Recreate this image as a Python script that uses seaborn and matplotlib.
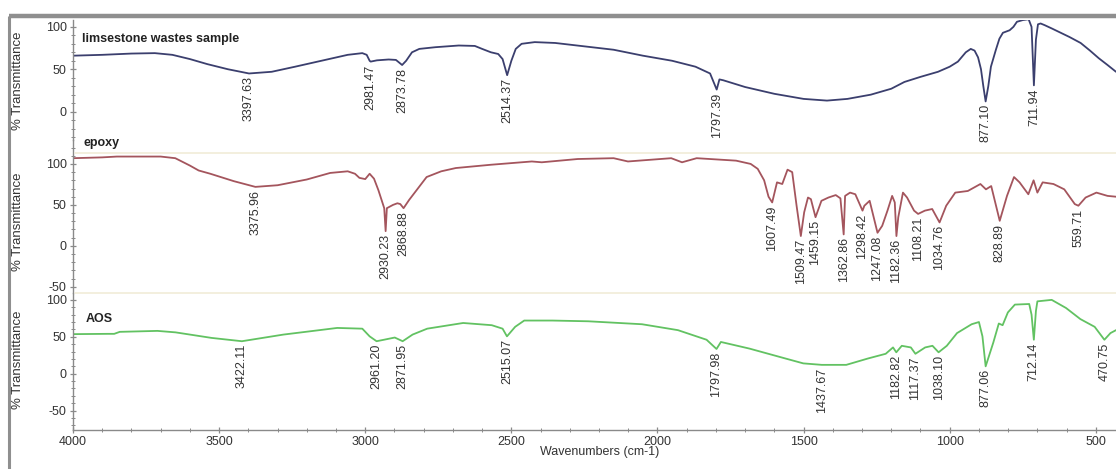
import numpy as np
import pandas as pd
import matplotlib
matplotlib.use("Agg")
import matplotlib.pyplot as plt
import seaborn as sns
from matplotlib.ticker import MultipleLocator, FixedLocator
from matplotlib.lines import Line2D

# ---------------- data ----------------
limestone_wn = [4000, 3900, 3800, 3720, 3660, 3600, 3540, 3470, 3397.63, 3320, 3240, 3150, 3060,
                3010, 2995, 2985, 2981.47, 2960, 2920, 2895, 2873.78, 2860, 2840, 2815, 2760, 2680,
                2625, 2600, 2570, 2545, 2530, 2514.37, 2500, 2485, 2465, 2420, 2350, 2250, 2150,
                2050, 1950, 1870, 1820, 1797.39, 1788, 1775, 1700, 1600, 1500, 1420, 1350, 1270,
                1200, 1155, 1100, 1040, 1000, 972, 945, 928, 915, 903, 893, 885, 877.10, 868, 859,
                842, 830, 818, 795, 782, 770, 750, 730, 720, 711.94, 705, 698, 689, 675, 650, 620,
                590, 552, 520, 490, 460, 431]
limestone_t = [66, 67, 68.5, 69, 67, 62, 56, 50, 45, 47, 53, 60, 67,
               69, 67, 60, 59, 60.5, 61.5, 61, 55, 60, 70, 74, 76, 78,
               77.5, 74, 70, 68, 62, 43, 60, 74, 80, 82, 81, 77, 73,
               66, 60, 53, 45, 26, 38, 37, 29, 21, 15, 13, 15, 20,
               27, 35, 41, 47, 53, 59, 70, 74, 72, 64, 50, 30, 12, 30, 53,
               73, 86, 93, 96, 100, 106, 108, 109, 100, 31, 85, 103, 104, 102, 98, 93,
               88, 81, 72, 63, 55, 47]

epoxy_wn = [4000, 3900, 3850, 3700, 3650, 3600, 3570, 3530, 3450, 3375.96, 3300, 3200, 3120,
            3060, 3035, 3020, 3000, 2985, 2970, 2955, 2945, 2935, 2930.23, 2926, 2905, 2890,
            2880, 2868.88, 2850, 2820, 2790, 2740, 2690, 2570, 2430, 2396, 2273, 2150, 2101,
            2027, 1953, 1916, 1866, 1731, 1681, 1657, 1635, 1620, 1607.49, 1591, 1573, 1555,
            1539, 1524, 1509.47, 1498, 1485, 1475, 1459.15, 1439, 1415, 1390, 1374, 1362.86,
            1358, 1341, 1323, 1298.42, 1292, 1274, 1247.08, 1231, 1213, 1197, 1188, 1182.36,
            1176, 1160, 1146, 1122, 1108.21, 1085, 1060, 1034.76, 1012, 981, 938, 895, 876,
            858, 828.89, 804, 780, 761, 731, 713, 700, 682, 645, 608, 572, 559.71, 535, 498,
            460, 431]
epoxy_t = [107, 108, 109, 109, 107, 98, 92, 88, 79, 72, 74, 81, 89,
           91, 88, 83, 81.5, 88, 82, 68, 57, 46, 18, 46, 50, 52,
           51, 46, 56, 70, 84, 91, 95, 99, 103, 102, 106, 107, 103,
           105, 107, 102, 107, 104, 100, 94, 80, 60, 53, 77.5, 75.5, 93,
           90, 49, 12, 41, 59, 57, 35, 55, 59, 62, 58, 14,
           61, 65, 63, 43, 49, 55, 16, 24.5, 43, 61, 53, 12,
           35, 65, 59, 43, 39, 43, 45, 28.6, 49, 65, 67, 75.5, 69,
           73, 30.6, 61, 84, 77.5, 63, 80, 65, 77.5, 75.5, 69, 51, 49, 59, 65,
           61, 60]

aos_wn = [4000, 3880, 3859, 3840, 3711, 3649, 3526, 3422.11, 3280, 3157, 3096, 3010, 2985,
          2961.20, 2936, 2899, 2871.95, 2838, 2788, 2665, 2567, 2530, 2515.07, 2487, 2456,
          2360, 2237, 2053, 1930, 1832, 1797.98, 1783, 1685, 1562, 1501, 1437.67, 1354, 1280,
          1219, 1194, 1182.82, 1164, 1133, 1117.37, 1084, 1059, 1038.10, 1010, 975, 925, 900,
          888, 877.06, 851, 832, 819, 801, 777, 728, 720, 712.14, 705, 700, 651, 602, 553,
          504, 470.75, 450, 431]
aos_t = [53.6, 54, 54, 56.7, 58, 56, 48.5, 44, 53, 59, 62, 61, 50.6,
         44, 46, 49, 44, 53, 61, 68.7, 65.7, 61, 50.6, 63.5, 72,
         72, 71, 67, 59, 46, 33.5, 43, 34, 20.6, 14, 12, 12, 20.6,
         27, 35.6, 29, 37.8, 35.6, 27, 35.6, 37.8, 29, 37.8, 55, 67, 70,
         50.6, 10, 42, 68, 65.7, 83, 93.6, 94.4, 80, 46, 85, 98, 100, 89, 74,
         63.5, 46, 55, 59]

limestone_peaks = [3397.63, 2981.47, 2873.78, 2514.37, 1797.39, 877.10, 711.94]
epoxy_peaks = [3375.96, 2930.23, 2868.88, 1607.49, 1509.47, 1459.15, 1362.86, 1298.42,
               1247.08, 1182.36, 1108.21, 1034.76, 828.89, 559.71]
aos_peaks = [3422.11, 2961.20, 2871.95, 2515.07, 1797.98, 1437.67, 1182.82, 1117.37,
             1038.10, 877.06, 712.14, 470.75]

titles = ["limsestone wastes sample", "epoxy", "AOS"]
x_ticks = [4000, 3500, 3000, 2500, 2000, 1500, 1000, 500]
y_ticks = [-50, 0, 50, 100]

# ---------------- styling ----------------
sns.set_theme(style="white")
plt.rcParams["font.family"] = ["Liberation Sans", "DejaVu Sans"]
plt.rcParams["axes.unicode_minus"] = False

W, H = 1116, 469
fig = plt.figure(figsize=(W / 100, H / 100), dpi=100)
fig.patch.set_facecolor("white")


def fx(px):
    return px / W


def fy(py):
    return 1 - py / H


LEFT = 73
# (top px, bottom px, ylim)
panels = [
    (20, 140, (-33.5, 108.1)),
    (140, 293, (-57.5, 129.2)),
    (293, 430, (-76.2, 109.3)),
]
colors = ["#3b3f6e", "#a4555d", "#62c262"]
series = [(limestone_wn, limestone_t, limestone_peaks),
          (epoxy_wn, epoxy_t, epoxy_peaks),
          (aos_wn, aos_t, aos_peaks)]

spine_col = "#8a8a8a"
text_col = "#333333"

axes = []
for i, ((top, bot, ylim), (wn, t, peaks), col) in enumerate(zip(panels, series, colors)):
    ax = fig.add_axes([fx(LEFT), fy(bot), fx(W - LEFT), (bot - top) / H])
    ax.set_facecolor("none")
    df = pd.DataFrame({"wn": wn, "T": t})
    sns.lineplot(data=df, x="wn", y="T", ax=ax, color=col, linewidth=1.3,
                 estimator=None, sort=False)
    ax.set_xlim(4000, 431)
    ax.set_ylim(*ylim)
    ax.set_xlabel("")
    ax.set_ylabel("")
    for s in ["top", "right"]:
        ax.spines[s].set_visible(False)
    ax.spines["left"].set_color(spine_col)
    ax.spines["left"].set_linewidth(1.0)
    ax.yaxis.set_major_locator(FixedLocator([v for v in y_ticks if ylim[0] <= v <= ylim[1]]))
    ax.yaxis.set_minor_locator(MultipleLocator(10))
    ax.tick_params(axis="y", which="major", direction="inout", length=5, width=0.9,
                   colors=spine_col, labelcolor=text_col, labelsize=9, pad=2, left=True)
    ax.tick_params(axis="y", which="minor", direction="inout", length=3, width=0.7,
                   colors=spine_col, left=True)
    if i < 2:
        ax.spines["bottom"].set_visible(False)
        ax.tick_params(axis="x", which="both", bottom=False, labelbottom=False)
    else:
        ax.spines["bottom"].set_color(spine_col)
        ax.spines["bottom"].set_linewidth(1.0)
        ax.xaxis.set_major_locator(FixedLocator(x_ticks))
        ax.xaxis.set_minor_locator(MultipleLocator(100))
        ax.tick_params(axis="x", which="major", direction="inout", length=5, width=0.9,
                       colors=spine_col, labelcolor=text_col, labelsize=9, pad=2, bottom=True)
        ax.tick_params(axis="x", which="minor", direction="inout", length=3, width=0.7,
                       colors=spine_col, bottom=True)
    # peak labels
    wn_arr = np.array(wn)[::-1]
    t_arr = np.array(t)[::-1]
    for p in peaks:
        v = float(np.interp(p, wn_arr, t_arr))
        ax.annotate(f"{p:.2f}", xy=(p, v), xytext=(0, -2), textcoords="offset points",
                    rotation=90, ha="center", va="top", fontsize=9, color=text_col,
                    annotation_clip=False)
    axes.append(ax)

# panel titles
title_pos = [(82, 39), (84, 143), (86, 319)]
for (px, py), ttl in zip(title_pos, titles):
    fig.text(fx(px), fy(py), ttl, fontsize=9, fontweight="bold", color="#222222",
             ha="left", va="center")

# y labels
for py in [81, 222, 360]:
    fig.text(fx(18), fy(py), "% Transmittance", rotation=90, fontsize=9.5,
             color=text_col, ha="center", va="center")

# x label
fig.text(fx(600), fy(452), "Wavenumbers (cm-1)", fontsize=9, color=text_col,
         ha="center", va="center")

# faint separators
for py in [153, 293]:
    fig.add_artist(Line2D([fx(LEFT + 2), 1], [fy(py), fy(py)], color="#f1ecd8", lw=1.2,
                          transform=fig.transFigure))

# outer frame
fig.add_artist(Line2D([fx(9), 1], [fy(16.5), fy(16.5)], color="#8f8f8f", lw=3.2,
                      transform=fig.transFigure, solid_capstyle="butt"))
fig.add_artist(Line2D([fx(9), fx(9)], [fy(16.5), 0], color="#8f8f8f", lw=2.2,
                      transform=fig.transFigure, solid_capstyle="butt"))

fig.savefig("out.png", dpi=100, facecolor="white")
